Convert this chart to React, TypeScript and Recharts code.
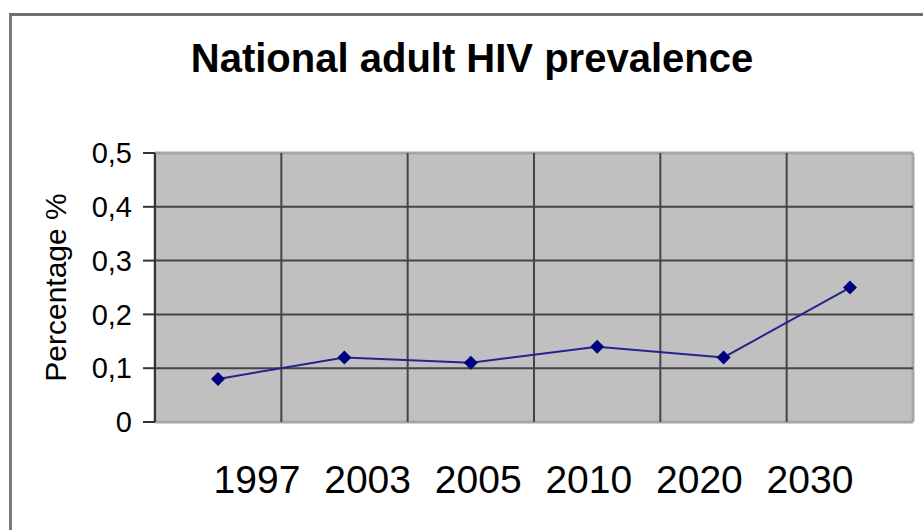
import { LineChart, Line, XAxis, YAxis, CartesianGrid, Label } from 'recharts';

const FONT = '"Liberation Sans", Arial, sans-serif';

const YEARS = ['1997', '2003', '2005', '2010', '2020', '2030'];
const PREVALENCE = [0.08, 0.12, 0.11, 0.14, 0.12, 0.25];
const Y_TICKS = [0, 0.1, 0.2, 0.3, 0.4, 0.5];
const INNER_Y_LINES = [0.1, 0.2, 0.3, 0.4];
// column boundaries, counted in year slots from the left edge of the plot
const SLOT_EDGES = [1, 2, 3, 4, 5];
const OUTER_EDGES = [0, 6];

const data = YEARS.map((year, i) => ({ year, value: PREVALENCE[i] }));

const slotLines = (slots: number[]) => ({ offset }: any) =>
  slots.map((k) => offset.left + (offset.width * k) / YEARS.length);

function Diamond(props: any) {
  const { cx, cy } = props;
  if (cx == null || cy == null) return null;
  const r = 7;
  return (
    <path
      d={`M${cx},${cy - r}L${cx + r},${cy}L${cx},${cy + r}L${cx - r},${cy}Z`}
      fill="#000080"
    />
  );
}

function YearTick(props: any) {
  const { x, y, payload } = props;
  return (
    <text x={x} y={y} dy={28} textAnchor="middle" fontSize={39} fontFamily={FONT} fill="#000">
      {payload.value}
    </text>
  );
}

function YTitle(props: any) {
  const { viewBox } = props;
  const x = 66;
  const y = viewBox.y + viewBox.height / 2;
  return (
    <text
      x={x}
      y={y}
      transform={`rotate(-90 ${x} ${y})`}
      textAnchor="middle"
      fontSize={30}
      fontFamily={FONT}
      fill="#000"
    >
      Percentage %
    </text>
  );
}

export default function App() {
  return (
    <div
      style={{
        position: 'fixed',
        top: 0,
        left: 0,
        width: 923,
        height: 530,
        background: '#fff',
        overflow: 'hidden',
        fontFamily: FONT,
      }}
    >
      <div
        style={{
          position: 'absolute',
          left: 9,
          top: 13,
          width: 1000,
          height: 1000,
          borderTop: '3px solid #6e6e6e',
          borderLeft: '3px solid #7a7a7a',
        }}
      />
      <div
        style={{
          position: 'absolute',
          left: 72,
          top: 38,
          width: 800,
          textAlign: 'center',
          fontSize: 40,
          lineHeight: '40px',
          fontWeight: 'bold',
          color: '#000',
        }}
      >
        National adult HIV prevalence
      </div>
      <div style={{ position: 'absolute', left: 0, top: 0 }}>
        <LineChart
          width={923}
          height={530}
          data={data}
          margin={{ top: 153, right: 10, bottom: 0, left: 0 }}
        >
          <XAxis
            xAxisId="labels"
            dataKey="year"
            type="category"
            padding={{ left: 102, right: 103 }}
            axisLine={false}
            tickLine={false}
            tickSize={0}
            tickMargin={43}
            height={108}
            interval={0}
            tick={<YearTick />}
          />
          <XAxis
            xAxisId="cat"
            dataKey="year"
            type="category"
            padding={{ left: 63, right: 63 }}
            height={0}
            hide
          />
          <CartesianGrid
            xAxisId="cat"
            fill="#c0c0c0"
            stroke="#a6a6a6"
            strokeWidth={3}
            horizontalValues={[0, 0.5]}
            verticalCoordinatesGenerator={slotLines(OUTER_EDGES)}
          />
          <CartesianGrid
            xAxisId="cat"
            stroke="#454545"
            strokeWidth={2}
            horizontalValues={INNER_Y_LINES}
            verticalCoordinatesGenerator={slotLines(SLOT_EDGES)}
          />
          <YAxis
            domain={[0, 0.5]}
            ticks={Y_TICKS}
            width={155}
            axisLine={{ stroke: '#333', strokeWidth: 2 }}
            tickLine={{ stroke: '#333', strokeWidth: 2 }}
            tickSize={12}
            tickMargin={11}
            tick={{ fontSize: 29, fill: '#000', fontFamily: FONT }}
            tickFormatter={(v: number) => String(v).replace('.', ',')}
          >
            <Label content={<YTitle />} />
          </YAxis>
          <Line
            xAxisId="cat"
            dataKey="value"
            stroke="#23238f"
            strokeWidth={2}
            dot={<Diamond />}
            activeDot={false}
            isAnimationActive={false}
          />
        </LineChart>
      </div>
    </div>
  );
}
